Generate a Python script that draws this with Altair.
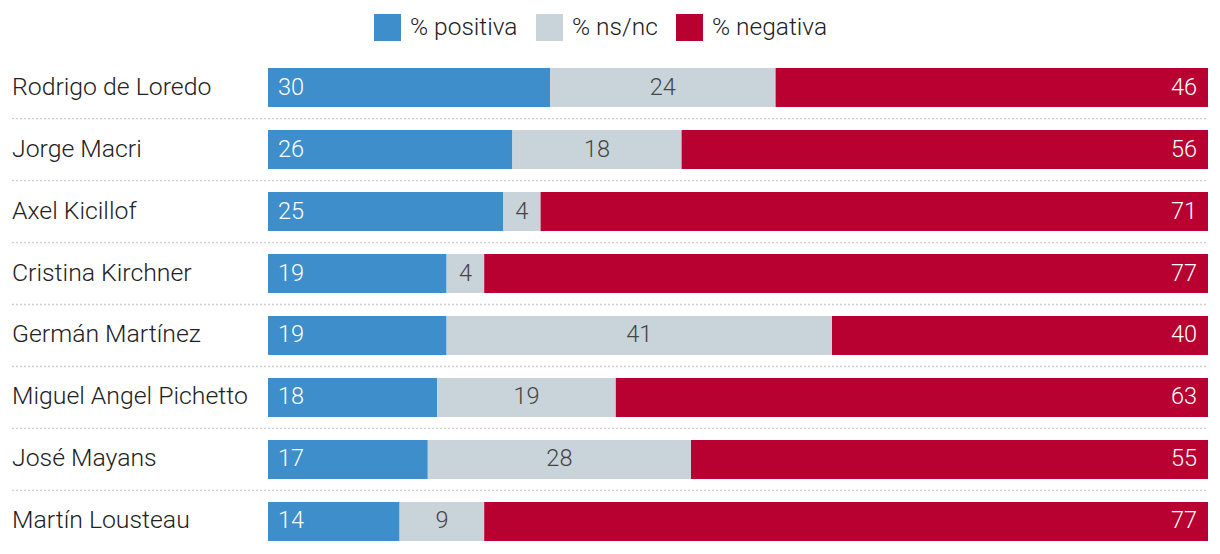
import altair as alt
import pandas as pd

names = ["Rodrigo de Loredo", "Jorge Macri", "Axel Kicillof", "Cristina Kirchner",
         "Germán Martínez", "Miguel Angel Pichetto", "José Mayans", "Martín Lousteau"]
positiva = [30, 26, 25, 19, 19, 18, 17, 14]
nsnc = [24, 18, 4, 4, 41, 19, 28, 9]
negativa = [46, 56, 71, 77, 40, 63, 55, 77]

cats = ["% positiva", "% ns/nc", "% negativa"]
colors = ["#3e8ecb", "#c9d3da", "#b80031"]

rows = []
for i, n in enumerate(names):
    start = 0
    for k, (c, v) in enumerate(zip(cats, [positiva[i], nsnc[i], negativa[i]])):
        rows.append({"name": n, "cat": c, "order": k, "value": v,
                     "start": start, "end": start + v, "mid": start + v / 2})
        start += v
df = pd.DataFrame(rows)
sep = pd.DataFrame({"name": names[:-1]})
lab = pd.DataFrame({"name": names})

FONT = "Roboto"
W = 300
yscale = alt.Scale(domain=names, paddingInner=0.371, paddingOuter=0.05)
xscale = alt.Scale(domain=[0, 100], nice=False, zero=True)


def Y(**kw):
    return alt.Y("name:N", scale=yscale, axis=None, **kw)


def X(f):
    return alt.X(f, scale=xscale, axis=None)


bars = alt.Chart(df).mark_bar().encode(
    y=Y(),
    x=X("start:Q"),
    x2="end:Q",
    color=alt.Color("cat:N", scale=alt.Scale(domain=cats, range=colors),
                    legend=alt.Legend(title=None, orient="none", direction="horizontal",
                                      legendX=106, legendY=-51,
                                      symbolType="square", symbolSize=729,
                                      symbolStrokeWidth=0, symbolOpacity=1,
                                      labelFontSize=24.5, labelFont=FONT, labelColor="#222",
                                      labelFontWeight=W,
                                      labelOffset=9, columnPadding=18, labelLimit=300)),
)

t_pos = alt.Chart(df).transform_filter(alt.datum.cat == "% positiva").mark_text(
    align="left", baseline="middle", dx=10, fontSize=23.5, font=FONT, fontWeight=W, color="white"
).encode(y=Y(), x=X("start:Q"), text="value:Q")
t_ns = alt.Chart(df).transform_filter(alt.datum.cat == "% ns/nc").mark_text(
    align="center", baseline="middle", fontSize=23.5, font=FONT, fontWeight=W, color="#444"
).encode(y=Y(), x=X("mid:Q"), text="value:Q")
t_neg = alt.Chart(df).transform_filter(alt.datum.cat == "% negativa").mark_text(
    align="right", baseline="middle", dx=-11, fontSize=23.5, font=FONT, fontWeight=W, color="white"
).encode(y=Y(), x=X("end:Q"), text="value:Q")

names_t = alt.Chart(lab).mark_text(
    align="left", baseline="middle", fontSize=24.8, font=FONT, fontWeight=W, color="#222"
).encode(y=Y(), x=alt.value(-256), text="name:N")

seps = alt.Chart(sep).mark_rule(strokeDash=[2, 2], color="#cfcfcf", strokeWidth=1.3, yOffset=11.5).encode(
    y=Y(bandPosition=1),
    x=alt.value(-256), x2=alt.value(940),
)

chart = alt.layer(seps, bars, t_pos, t_ns, t_neg, names_t).properties(
    width=940, height=479,
    autosize=alt.AutoSizeParams(type="none"),
    padding={"left": 260, "top": 57, "right": 4, "bottom": 2},
).configure(background="white").configure_view(stroke=None)

chart.save("out.html", embed_options={"renderer": "svg", "actions": False})
